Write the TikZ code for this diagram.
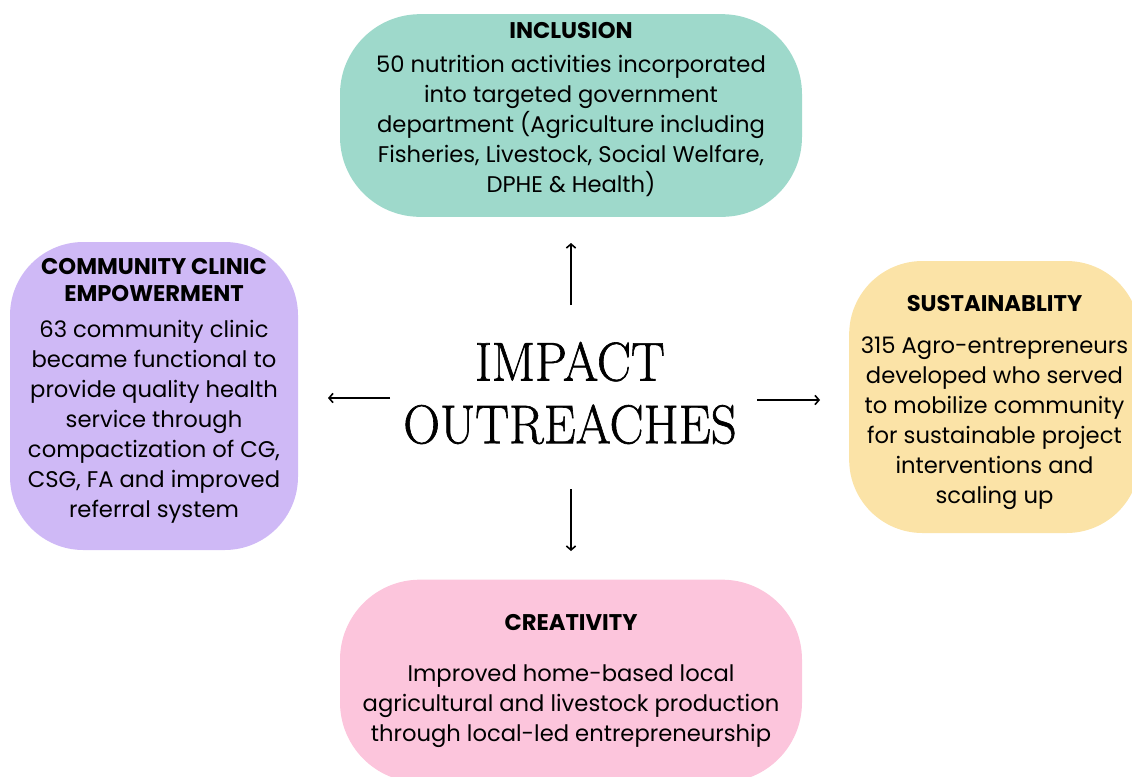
\documentclass[tikz,border=0pt]{standalone}
\usepackage{fontspec}
\usetikzlibrary{arrows.meta}
\newfontfamily\boxfont{Poppins}
\newfontfamily\titlefont{Latin Modern Roman}[FakeBold=1.2]
\definecolor{inclcol}{HTML}{9ED9CB}
\definecolor{cliniccol}{HTML}{CFB9F6}
\definecolor{sustcol}{HTML}{FBE3A7}
\definecolor{creatcol}{HTML}{FCC5DC}
\tikzset{
    card/.style={rounded corners=#1, inner sep=0pt, align=center,
        font=\boxfont\fontsize{17}{22.5}\selectfont}
}
\newcommand{\headline}[1]{{\bfseries #1}}
\begin{document}
\begin{tikzpicture}[x=0.75pt, y=-0.75pt, line width=1.2pt, >={Straight Barb[length=3pt,width=7pt]}]
        \useasboundingbox (0,0) rectangle (1132,776);
        % the four cards
        \node[card=60pt, fill=inclcol, minimum width=346.5pt, minimum height=152pt] (incl) at (571,115.5)
            {\headline{INCLUSION}\\[3pt]
             50 nutrition activities incorporated\\
             into targeted government\\
             department (Agriculture including\\
             Fisheries, Livestock, Social Welfare,\\
             DPHE \& Health)\\[-10pt]\mbox{}};
        \node[card=55pt, fill=cliniccol, minimum width=216pt, minimum height=231pt] (clinic) at (154,396)
            {\headline{COMMUNITY CLINIC}\\[-2pt]
             \headline{EMPOWERMENT}\\[4pt]
             63 community clinic\\
             became functional to\\
             provide quality health\\
             service through\\
             compactization of CG,\\
             CSG, FA and improved\\
             referral system\\[-10pt]\mbox{}};
        \node[card=55pt, fill=sustcol, minimum width=218pt, minimum height=204pt] (sust) at (994.5,397)
            {\mbox{}\\[-2pt]
             \headline{SUSTAINABLITY}\\[9pt]
             315 Agro-entrepreneurs\\
             developed who served\\
             to mobilize community\\
             for sustainable project\\
             interventions and\\
             scaling up};
        \node[card=60pt, fill=creatcol, minimum width=346.5pt, minimum height=152pt] (creat) at (571,681)
            {\headline{CREATIVITY}\\[16pt]
             Improved home-based local\\
             agricultural and livestock production\\
             through local-led entrepreneurship};
        % centre title
        \node[align=center, inner sep=0pt, font=\titlefont\fontsize{41}{47}\selectfont] (title) at (570,393)
            {\scalebox{0.93}[1]{IMPACT}\\\scalebox{0.93}[1]{OUTREACHES}};
        % arrows
        \coordinate (up-s) at (571,305);
        \coordinate (up-e) at (571,243);
        \coordinate (lt-s) at (390,398);
        \coordinate (lt-e) at (328,398);
        \coordinate (rt-s) at (757,400);
        \coordinate (rt-e) at (820,400);
        \coordinate (dn-s) at (571,489);
        \coordinate (dn-e) at (571,551);
        \foreach \a in {up,lt,rt,dn}
            {
                \draw[->](\a-s)--(\a-e);
            }
    \end{tikzpicture}
\end{document}
